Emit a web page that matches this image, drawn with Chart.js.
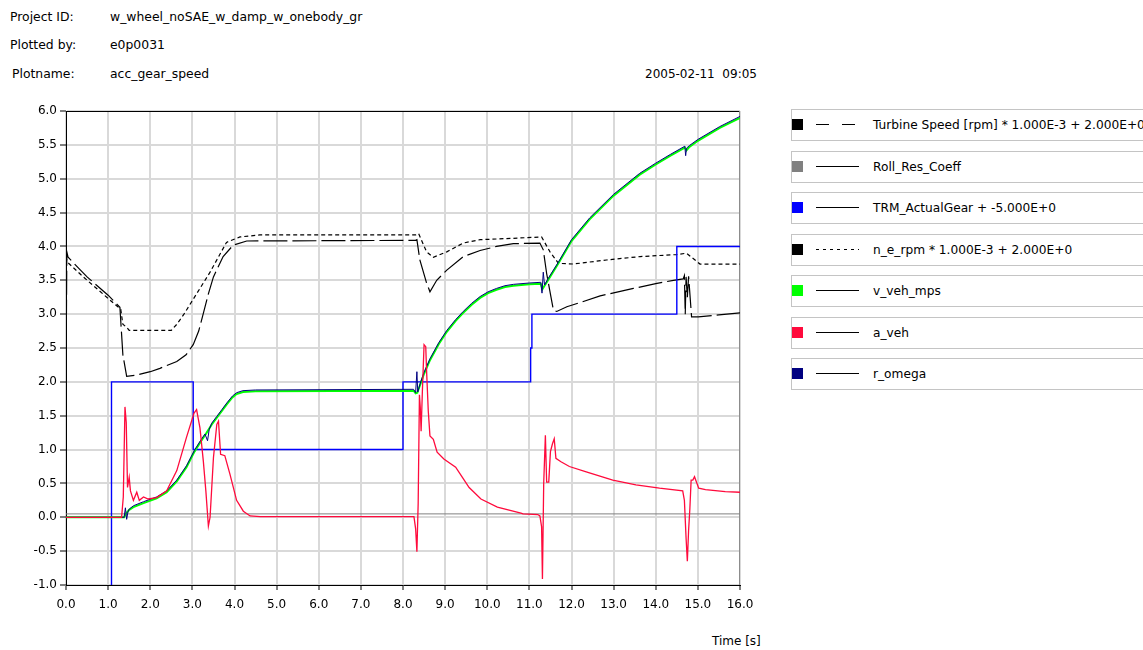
<!DOCTYPE html>
<html>
<head>
<meta charset="utf-8">
<title>acc_gear_speed</title>
<script src="https://cdn.jsdelivr.net/npm/chart.js@4.4.0/dist/chart.umd.min.js"></script>
<style>
    body {
        margin: 0;
        width: 1143px;
        height: 650px;
        overflow: hidden;
        position: relative;
        background: #fff;
        color: #000;
        font-family: "DejaVu Sans", sans-serif;
        font-size: 12px;
    }
    .t { position: absolute; white-space: pre; line-height: 14px; }
    .h { font-size: 12.4px; }
    #chart { position: absolute; left: 0; top: 100px; }
    .leg {
        position: absolute;
        left: 791px;
        width: 420px;
        height: 30px;
        border: 1px solid #c4c4c4;
        font-size: 12.2px;
    }
    .leg .sw { position: absolute; left: 0; top: 9px; width: 11px; height: 11px; }
    .leg svg { position: absolute; left: 24px; top: 13px; }
    .leg span { position: absolute; left: 81px; top: 8px; white-space: nowrap; }
</style>
</head>
<body>
<div class="t h" style="left:10px;top:10px">Project ID:</div>
<div class="t h" style="left:110px;top:10px">w_wheel_noSAE_w_damp_w_onebody_gr</div>
<div class="t h" style="left:10px;top:38px">Plotted by:</div>
<div class="t h" style="left:110px;top:38px">e0p0031</div>
<div class="t h" style="left:12px;top:67px">Plotname:</div>
<div class="t h" style="left:110px;top:67px">acc_gear_speed</div>
<div class="t" style="left:645px;top:67px">2005-02-11  09:05</div>
<div class="t" style="left:712px;top:634px">Time [s]</div>

<canvas id="chart" width="770" height="520"></canvas>
<div id="legend"></div>

<script>
    // tick positions
    const xTicks = [0, 1, 2, 3, 4, 5, 6, 7, 8, 9, 10, 11, 12, 13, 14, 15, 16];
    const yTicks = [-1, -0.5, 0, 0.5, 1, 1.5, 2, 2.5, 3, 3.5, 4, 4.5, 5, 5.5, 6];

    // [time s, value]
    const turbineSpeed = [
        [0, 2.0], [0.02, 3.92], [0.05, 3.84], [0.5, 3.55], [1.0, 3.28], [1.28, 3.1], [1.3, 2.9],
        [1.35, 2.4], [1.44, 2.08], [1.68, 2.1], [2.0, 2.15], [2.23, 2.2], [2.63, 2.3], [2.85, 2.4],
        [3.02, 2.55], [3.15, 2.75], [3.26, 3.01], [3.38, 3.3], [3.5, 3.55], [3.73, 3.85], [3.97, 4.02],
        [4.29, 4.08], [8.3, 4.09], [8.33, 4.1], [8.4, 3.8], [8.56, 3.46], [8.64, 3.33], [8.8, 3.5],
        [9.04, 3.65], [9.43, 3.85], [9.83, 3.94], [10.22, 4.0], [10.62, 4.04], [11.25, 4.05],
        [11.33, 3.95], [11.41, 3.6], [11.57, 3.06], [11.65, 3.04], [11.89, 3.11], [12.2, 3.17],
        [12.68, 3.27], [13.47, 3.38], [14.0, 3.45], [14.42, 3.5], [14.65, 3.52], [14.68, 3.57],
        [14.7, 3.0], [14.72, 3.55], [14.75, 3.25], [14.78, 3.56], [14.85, 2.96], [15.01, 2.96],
        [15.5, 2.99], [16, 3.02]
    ];
    const rollResCoeff = [[0, 0.05], [16, 0.05]];
    const actualGear = [
        [0, -5], [1.08, 2], [3.02, 1], [8.0, 2], [11.03, 2.5], [11.06, 3], [14.5, 4], [16, 4]
    ];
    const engineSpeed = [
        [0, 3.85], [0.03, 3.77], [0.41, 3.55], [1.04, 3.21], [1.3, 3.07], [1.35, 2.85], [1.45, 2.8],
        [1.5, 2.76], [2.5, 2.76], [2.63, 2.85], [2.8, 3.0], [3.02, 3.22], [3.42, 3.62], [3.81, 4.06],
        [4.13, 4.14], [4.6, 4.17], [8.3, 4.17], [8.37, 4.19], [8.56, 3.92], [8.72, 3.84], [9.04, 3.92],
        [9.43, 4.05], [9.83, 4.1], [10.62, 4.12], [11.29, 4.14], [11.49, 3.92], [11.69, 3.75],
        [12.04, 3.74], [12.83, 3.8], [13.63, 3.85], [14.5, 3.88], [14.73, 3.9], [15.05, 3.74], [16, 3.74]
    ];
    const vehSpeed = [
        [0, 0], [1.38, 0], [1.42, 0.05], [1.5, 0.11], [1.6, 0.15], [1.84, 0.21], [2.15, 0.28],
        [2.39, 0.37], [2.63, 0.53], [2.86, 0.74], [3.05, 0.97], [3.2, 1.12], [3.34, 1.25], [3.46, 1.37],
        [3.58, 1.47], [3.7, 1.57], [3.82, 1.67], [3.95, 1.77], [4.05, 1.82], [4.2, 1.85], [4.5, 1.86],
        [8.25, 1.87], [8.3, 1.83], [8.34, 1.84], [8.42, 1.98], [8.5, 2.12], [8.64, 2.32], [8.85, 2.56],
        [9.04, 2.74], [9.25, 2.9], [9.43, 3.02], [9.63, 3.14], [9.83, 3.24], [10.02, 3.31], [10.22, 3.36],
        [10.42, 3.4], [10.62, 3.42], [11.0, 3.44], [11.27, 3.45], [11.31, 3.37], [11.36, 3.42],
        [11.45, 3.51], [11.69, 3.75], [12.0, 4.08], [12.43, 4.4], [13.0, 4.75], [13.62, 5.06],
        [14.0, 5.21], [14.35, 5.34], [14.69, 5.46], [14.73, 5.42], [14.8, 5.47], [15.0, 5.56],
        [15.52, 5.75], [16, 5.9]
    ];
    const vehAccel = [
        [0, 0], [1.32, 0], [1.36, 0.3], [1.4, 1.63], [1.43, 1.4], [1.46, 0.44], [1.5, 0.59], [1.53, 0.39],
        [1.6, 0.25], [1.68, 0.37], [1.74, 0.25], [1.84, 0.3], [1.95, 0.27], [2.15, 0.29], [2.39, 0.39],
        [2.63, 0.69], [2.86, 1.18], [3.04, 1.54], [3.1, 1.59], [3.18, 1.32], [3.26, 0.83], [3.32, 0.39],
        [3.38, -0.13], [3.42, 0], [3.5, 0.88], [3.58, 1.37], [3.62, 1.42], [3.67, 0.93], [3.77, 0.91],
        [3.89, 0.64], [4.05, 0.25], [4.21, 0.09], [4.37, 0.02], [4.61, 0.01], [8.26, 0.01], [8.3, -0.17],
        [8.33, -0.51], [8.36, 0.2], [8.39, 1.81], [8.41, 1.62], [8.43, 1.27], [8.46, 1.86], [8.5, 2.55],
        [8.54, 2.52], [8.56, 2.16], [8.6, 1.57], [8.64, 1.2], [8.72, 1.15], [8.81, 0.96], [8.97, 0.86],
        [9.25, 0.74], [9.41, 0.59], [9.57, 0.44], [9.85, 0.27], [10.24, 0.15], [10.8, 0.06], [10.85, 0.05],
        [11.2, 0.04], [11.25, 0.02], [11.29, -0.14], [11.31, -0.91], [11.34, 0.5], [11.38, 1.21],
        [11.41, 0.52], [11.46, 0.52], [11.5, 0.97], [11.55, 1.09], [11.59, 1.16], [11.63, 0.87],
        [11.75, 0.82], [11.95, 0.75], [12.35, 0.67], [12.98, 0.55], [13.53, 0.48], [14.09, 0.43],
        [14.64, 0.39], [14.68, 0.25], [14.72, -0.31], [14.75, -0.65], [14.78, -0.19], [14.81, 0.13],
        [14.84, 0.55], [14.88, 0.55], [14.92, 0.6], [15.02, 0.43], [15.18, 0.41], [15.65, 0.38], [16, 0.37]
    ];
    const rOmega = [
        [0, 0], [1.38, 0], [1.41, 0.14], [1.44, -0.03], [1.47, 0.08], [1.5, 0.12], [1.6, 0.17], [1.84, 0.23],
        [2.15, 0.3], [2.39, 0.39], [2.63, 0.55], [2.86, 0.76], [3.05, 0.99], [3.2, 1.14], [3.3, 1.23],
        [3.36, 1.13], [3.4, 1.3], [3.46, 1.39], [3.58, 1.49], [3.7, 1.59], [3.82, 1.69], [3.95, 1.79],
        [4.05, 1.84], [4.2, 1.87], [4.5, 1.88], [8.25, 1.89], [8.3, 1.84], [8.33, 2.15], [8.35, 1.85],
        [8.42, 2.0], [8.5, 2.14], [8.64, 2.34], [8.85, 2.58], [9.04, 2.76], [9.25, 2.92], [9.43, 3.04],
        [9.63, 3.16], [9.83, 3.26], [10.02, 3.33], [10.22, 3.38], [10.42, 3.42], [10.62, 3.44], [11.0, 3.46],
        [11.27, 3.47], [11.3, 3.31], [11.33, 3.62], [11.36, 3.43], [11.45, 3.53], [11.69, 3.77], [12.0, 4.1],
        [12.43, 4.42], [13.0, 4.77], [13.62, 5.08], [14.0, 5.23], [14.35, 5.36], [14.69, 5.48], [14.71, 5.34],
        [14.73, 5.45], [14.8, 5.49], [15.0, 5.58], [15.52, 5.77], [16, 5.92]
    ];

    const FONT = 'DejaVu Sans';

    // legend order = list order; "order" = draw order (low on top)
    const series = [
        { label: 'Turbine Speed [rpm] * 1.000E-3 + 2.000E+0', data: turbineSpeed, color: '#000000', dash: [24, 5], legendDash: '13,13', width: 1.2, order: 5 },
        { label: 'Roll_Res_Coeff', data: rollResCoeff, color: '#808080', order: 7 },
        { label: 'TRM_ActualGear + -5.000E+0', data: actualGear, color: '#0000ff', stepped: 'before', width: 1.4, order: 4 },
        { label: 'n_e_rpm * 1.000E-3 + 2.000E+0', data: engineSpeed, color: '#000000', dash: [4, 3], legendDash: '3,4', width: 1.2, order: 6 },
        { label: 'v_veh_mps', data: vehSpeed, color: '#00ff00', width: 2, order: 3 },
        { label: 'a_veh', data: vehAccel, color: '#ff0a3c', width: 1.3, order: 1 },
        { label: 'r_omega', data: rOmega, color: '#000080', order: 2 }
    ];

    function buildLegend() {
        const box = document.getElementById('legend');
        series.forEach(function(s, i) {
            const top = Math.round(109 + i * 41.5);
            const dash = s.legendDash ? ' stroke-dasharray="' + s.legendDash + '"' : '';
            const div = document.createElement('div');
            div.className = 'leg';
            div.style.top = top + 'px';
            div.innerHTML =
                '<div class="sw" style="background:' + s.color + '"></div>' +
                '<svg width="43" height="3"><line x1="0" y1="1.5" x2="43" y2="1.5" stroke="#000" stroke-width="1"' + dash + '/></svg>' +
                '<span></span>';
            div.querySelector('span').textContent = s.label;
            box.appendChild(div);
        });
    }

    // top and right edges of the plot frame
    const framePlugin = {
        id: 'frame',
        beforeDatasetsDraw(chart) {
            const { ctx, chartArea: a } = chart;
            ctx.save();
            ctx.lineWidth = 1;
            ctx.strokeStyle = '#000';
            ctx.beginPath();
            ctx.moveTo(a.left, a.top + 0.5);
            ctx.lineTo(a.right, a.top + 0.5);
            ctx.stroke();
            ctx.strokeStyle = '#8c8c8c';
            ctx.beginPath();
            ctx.moveTo(a.right - 0.5, a.top);
            ctx.lineTo(a.right - 0.5, a.bottom);
            ctx.stroke();
            ctx.restore();
        }
    };

    function initChart() {
        const ctx = document.getElementById('chart');

        const datasets = series.map(function(s) {
            return {
                label: s.label,
                data: s.data.map(p => ({ x: p[0], y: p[1] })),
                borderColor: s.color,
                backgroundColor: s.color,
                borderWidth: s.width || 1,
                borderDash: s.dash || [],
                stepped: s.stepped || false,
                pointRadius: 0,
                tension: 0,
                fill: false,
                order: s.order
            };
        });

        const gridOpts = {
            color: '#d9d9d9',
            lineWidth: 2,
            tickColor: '#000',
            tickWidth: 1
        };

        new Chart(ctx, {
            type: 'line',
            data: { datasets: datasets },
            options: {
                responsive: false,
                animation: false,
                devicePixelRatio: 1,
                layout: { padding: { top: 11, right: 30, bottom: 5, left: 0 } },
                plugins: {
                    legend: { display: false },
                    tooltip: { enabled: false }
                },
                scales: {
                    x: {
                        type: 'linear',
                        min: 0,
                        max: 16,
                        afterBuildTicks: s => { s.ticks = xTicks.map(v => ({ value: v })); },
                        afterFit: s => { s.height = 30; },
                        grid: Object.assign({ tickLength: 5 }, gridOpts),
                        border: { color: '#000', width: 1 },
                        ticks: {
                            padding: 8,
                            maxRotation: 0,
                            autoSkip: false,
                            color: '#000',
                            font: { family: FONT, size: 12 },
                            callback: v => Number(v).toFixed(1)
                        }
                    },
                    y: {
                        type: 'linear',
                        min: -1,
                        max: 6,
                        afterBuildTicks: s => { s.ticks = yTicks.map(v => ({ value: v })); },
                        afterFit: s => { s.width = 66; },
                        grid: Object.assign({ tickLength: 6 }, gridOpts),
                        border: { color: '#000', width: 1 },
                        ticks: {
                            padding: 3,
                            autoSkip: false,
                            color: '#000',
                            font: { family: FONT, size: 12 },
                            callback: v => Number(v).toFixed(1)
                        }
                    }
                }
            },
            plugins: [framePlugin]
        });
    }

    buildLegend();
    initChart();
</script>
</body>
</html>
